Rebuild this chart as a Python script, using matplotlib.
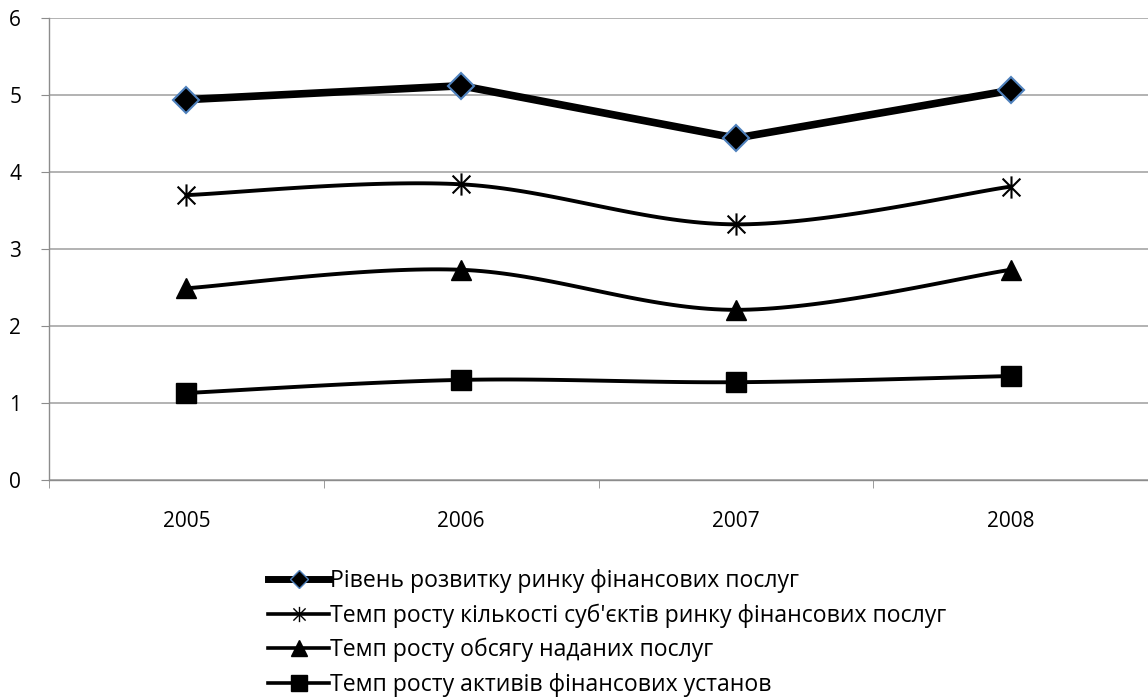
import numpy as np
import matplotlib.pyplot as plt
from matplotlib.path import Path

# ----------------------------
# Data
# ----------------------------
years = ["2005", "2006", "2007", "2008"]

level_market = [4.94, 5.12, 4.44, 5.06]
growth_subjects = [3.70, 3.84, 3.32, 3.81]
growth_services = [2.49, 2.73, 2.21, 2.73]
growth_assets = [1.13, 1.30, 1.27, 1.35]

labels = [
    "Рівень розвитку ринку фінансових послуг",
    "Темп росту кількості суб'єктів ринку фінансових послуг",
    "Темп росту обсягу наданих послуг",
    "Темп росту активів фінансових установ",
]


def smooth(x, y, n=40):
    # Catmull-Rom style bezier smoothing between points
    x = np.asarray(x, float)
    y = np.asarray(y, float)
    px = np.concatenate([[x[0]], x, [x[-1]]])
    py = np.concatenate([[y[0]], y, [y[-1]]])
    xs, ys = [], []
    t = np.linspace(0, 1, n)
    for i in range(1, len(px) - 2):
        p0 = np.array([px[i], py[i]])
        p3 = np.array([px[i + 1], py[i + 1]])
        c1 = p0 + (p3 - np.array([px[i - 1], py[i - 1]])) / 6.0
        c2 = p3 - (np.array([px[i + 2], py[i + 2]]) - p0) / 6.0
        b = (((1 - t) ** 3)[:, None] * p0 + (3 * (1 - t) ** 2 * t)[:, None] * c1
             + (3 * (1 - t) * t ** 2)[:, None] * c2 + (t ** 3)[:, None] * p3)
        xs.append(b[:, 0])
        ys.append(b[:, 1])
    return np.concatenate(xs), np.concatenate(ys)


# star marker: vertical bar plus an X
star = Path(
    [(0, -1), (0, 1), (-0.8, -0.8), (0.8, 0.8), (-0.8, 0.8), (0.8, -0.8)],
    [Path.MOVETO, Path.LINETO, Path.MOVETO, Path.LINETO, Path.MOVETO, Path.LINETO],
)

plt.rcParams["font.family"] = ["Open Sans", "DejaVu Sans"]

fig = plt.figure(figsize=(11.48, 6.97), dpi=100)
ax = fig.add_axes([49 / 1148, 1 - 480 / 697, 1099 / 1148, 462 / 697])

x = np.arange(len(years))

ax.plot(x, level_market, color="black", lw=5.5, marker="D", ms=13,
        mfc="black", mec="#4f81bd", mew=1.5, zorder=5, label=labels[0])

sx, sy = smooth(x, growth_subjects)
ax.plot(sx, sy, color="black", lw=2.8, zorder=4)
ax.plot(x, growth_subjects, ls="none", marker=star, ms=16, mec="black",
        mew=1.5, zorder=5)

sx, sy = smooth(x, growth_services)
ax.plot(sx, sy, color="black", lw=2.8, zorder=4)
ax.plot(x, growth_services, ls="none", marker="^", ms=15, color="black",
        zorder=5)

sx, sy = smooth(x, growth_assets)
ax.plot(sx, sy, color="black", lw=2.8, zorder=4)
ax.plot(x, growth_assets, ls="none", marker="s", ms=15, color="black",
        zorder=5)

# legend handles
h1, = ax.plot([], [], color="black", lw=5, marker="D", ms=9, mfc="black",
              mec="#4f81bd", mew=1)
h2, = ax.plot([], [], color="black", lw=2.6, marker=star, ms=11, mec="black",
              mew=1.0)
h3, = ax.plot([], [], color="black", lw=2.6, marker="^", ms=11)
h4, = ax.plot([], [], color="black", lw=2.6, marker="s", ms=11)

ax.set_xlim(-0.5, 3.5)
ax.set_ylim(0, 6)
ax.set_yticks(range(0, 7))
ax.set_xticks(x)
ax.set_xticklabels(years)
ax.set_xticks(np.arange(-0.5, 4, 1), minor=True)

ax.yaxis.grid(True, color="#a6a6a6", lw=1.2)
ax.set_axisbelow(True)

for side in ["top", "right"]:
    ax.spines[side].set_visible(False)
for side in ["left", "bottom"]:
    ax.spines[side].set_color("#8c8c8c")
    ax.spines[side].set_linewidth(1)

ax.tick_params(axis="y", length=6, color="#8c8c8c", labelsize=15, pad=14)
ax.tick_params(axis="x", which="major", length=0, labelsize=15, pad=22)
ax.tick_params(axis="x", which="minor", length=6, color="#8c8c8c")

fig.legend([h1, h2, h3, h4], labels, loc="upper left",
           bbox_to_anchor=(268 / 1148, 1 - 569 / 697), frameon=False,
           fontsize=16.6, handlelength=2.65, handletextpad=0.05,
           labelspacing=0.45, borderaxespad=0, borderpad=0)

fig.savefig("out.png", dpi=100)
